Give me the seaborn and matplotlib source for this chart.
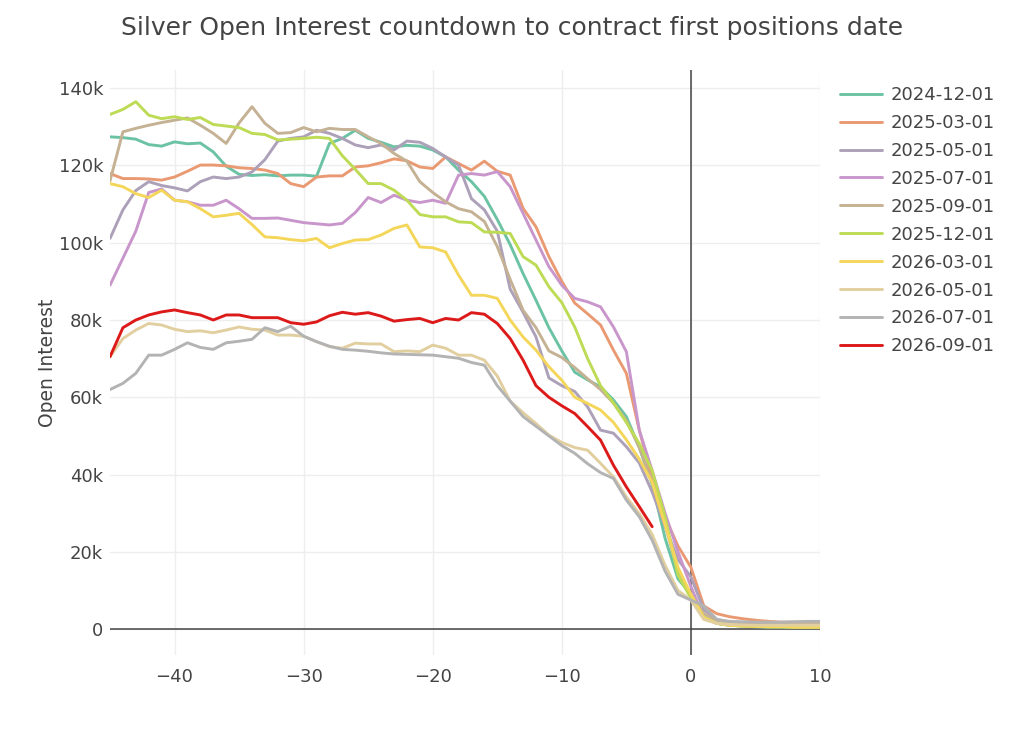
import pandas as pd
import numpy as np
import matplotlib
matplotlib.use("Agg")
import matplotlib.pyplot as plt
import seaborn as sns
from matplotlib.ticker import FuncFormatter


# ===============================
# DATOS (open interest, miles de contratos)
# ===============================

days = list(range(-45, 11))

oi_2024_12 = [127.4, 127.2, 126.8, 125.4, 125.0, 126.1, 125.6, 125.8, 123.5, 119.8,
              117.7, 117.4, 117.6, 117.3, 117.5, 117.5, 117.2, 125.7, 127.0, 129.1,
              127.0, 126.0, 124.8, 125.2, 125.0, 124.0, 122.2, 118.8, 115.8, 112.0,
              106.0, 99.5, 92.0, 85.1, 78.0, 72.0, 66.5, 64.5, 62.7, 59.3,
              55.0, 47.0, 37.5, 23.5, 13.0, 9.0, 3.0, 1.5, 1.0, 0.8,
              0.6, 0.5, 0.5, 0.4, 0.4, 0.4]

oi_2025_03 = [117.9, 116.6, 116.6, 116.5, 116.2, 117.0, 118.5, 120.1, 120.1, 119.9,
              119.4, 119.2, 118.8, 117.9, 115.3, 114.5, 117.0, 117.3, 117.3, 119.6,
              119.9, 120.7, 121.7, 121.2, 119.6, 119.2, 122.2, 120.5, 118.8, 121.1,
              118.5, 117.5, 108.9, 104.1, 96.4, 90.0, 84.4, 81.6, 78.7, 72.2,
              66.2, 51.5, 39.0, 29.0, 21.5, 16.0, 6.0, 4.0, 3.2, 2.7,
              2.3, 2.0, 1.8, 1.8, 1.7, 1.7]

oi_2025_05 = [101.1, 108.5, 113.5, 115.8, 114.8, 114.2, 113.4, 115.8, 117.0, 116.6,
              117.0, 118.3, 121.5, 126.3, 127.0, 127.4, 129.1, 128.3, 127.0, 125.3,
              124.6, 125.3, 124.0, 126.3, 126.0, 124.4, 122.2, 120.1, 111.4, 108.5,
              103.0, 88.0, 82.0, 75.6, 65.0, 63.0, 61.5, 57.5, 51.5, 50.7,
              47.2, 43.0, 35.5, 26.5, 18.0, 13.5, 5.0, 2.5, 1.8, 1.5,
              1.4, 1.3, 1.3, 1.2, 1.2, 1.2]

oi_2025_07 = [89.0, 96.0, 103.0, 113.0, 113.9, 111.0, 110.6, 109.7, 109.7, 111.0,
              108.8, 106.3, 106.3, 106.4, 105.8, 105.2, 104.9, 104.6, 105.0, 107.8,
              111.7, 110.4, 112.3, 111.0, 110.4, 111.0, 110.2, 117.5, 117.9, 117.5,
              118.4, 114.5, 107.6, 100.7, 93.8, 89.0, 85.6, 84.7, 83.4, 78.2,
              71.8, 51.5, 41.0, 30.0, 20.0, 11.0, 3.0, 1.5, 1.0, 0.9,
              0.8, 0.7, 0.7, 0.6, 0.6, 0.6]

oi_2025_09 = [116.0, 128.7, 129.6, 130.4, 131.1, 131.7, 132.3, 130.4, 128.3, 125.7,
              131.0, 135.2, 130.9, 128.3, 128.5, 129.8, 128.7, 129.6, 129.3, 129.3,
              127.4, 125.7, 123.1, 121.1, 115.8, 113.0, 110.6, 108.8, 108.0, 105.5,
              99.0, 90.5, 82.5, 78.0, 72.0, 70.3, 67.7, 64.8, 62.0, 58.5,
              54.0, 47.0, 38.0, 27.0, 15.0, 9.0, 4.0, 2.0, 1.8, 1.6,
              1.5, 1.5, 1.5, 1.5, 1.5, 1.5]

oi_2025_12 = [133.2, 134.5, 136.5, 133.0, 132.1, 132.6, 131.9, 132.4, 130.6, 130.2,
              129.8, 128.3, 128.0, 126.6, 126.8, 127.0, 127.3, 127.0, 122.5, 119.0,
              115.3, 115.3, 113.6, 111.0, 107.3, 106.7, 106.7, 105.4, 105.2, 102.8,
              102.7, 102.4, 96.4, 94.2, 88.6, 84.5, 78.2, 70.0, 63.0, 58.5,
              53.5, 48.0, 41.0, 29.0, 14.0, 8.0, 3.0, 1.5, 1.0, 0.8,
              0.7, 0.6, 0.6, 0.5, 0.5, 0.5]

oi_2026_03 = [115.3, 114.5, 112.7, 111.7, 113.6, 111.0, 110.6, 108.8, 106.7, 107.1,
              107.6, 104.7, 101.5, 101.3, 100.8, 100.5, 101.1, 98.7, 99.8, 100.7,
              100.8, 102.0, 103.7, 104.6, 98.9, 98.7, 97.6, 91.6, 86.4, 86.4,
              85.6, 80.0, 75.6, 72.2, 67.9, 64.4, 60.0, 58.4, 56.7, 53.5,
              49.0, 44.0, 38.0, 27.0, 16.0, 9.0, 3.0, 1.5, 1.0, 0.8,
              0.7, 0.6, 0.6, 0.5, 0.5, 0.5]

oi_2026_05 = [70.5, 75.2, 77.4, 79.1, 78.7, 77.6, 77.0, 77.2, 76.7, 77.4,
              78.2, 77.6, 77.4, 76.1, 76.1, 75.8, 74.4, 73.1, 72.7, 74.0,
              73.8, 73.8, 71.8, 72.0, 71.8, 73.5, 72.7, 70.9, 70.9, 69.6,
              65.5, 59.0, 56.0, 53.2, 50.2, 48.3, 47.0, 46.3, 42.9, 39.4,
              34.2, 29.9, 24.5, 16.5, 10.0, 7.5, 2.5, 1.5, 1.2, 1.1,
              1.0, 1.0, 1.0, 1.0, 1.0, 1.0]

oi_2026_07 = [62.0, 63.6, 66.2, 70.9, 70.9, 72.4, 74.1, 72.9, 72.4, 74.1,
              74.5, 75.0, 78.0, 77.0, 78.4, 75.8, 74.4, 73.2, 72.4, 72.2,
              71.9, 71.5, 71.2, 71.1, 71.0, 70.9, 70.5, 70.1, 69.0, 68.3,
              63.0, 59.0, 55.0, 52.5, 50.0, 47.5, 45.5, 42.8, 40.5, 39.0,
              33.4, 29.1, 23.0, 15.0, 9.0, 7.5, 6.0, 2.5, 2.0, 1.9,
              1.8, 1.8, 1.8, 1.9, 2.0, 2.0]

oi_2026_09 = [70.5, 78.0, 80.0, 81.3, 82.1, 82.6, 81.9, 81.3, 80.0, 81.3,
              81.3, 80.6, 80.6, 80.6, 79.3, 78.9, 79.5, 81.1, 82.0, 81.5,
              81.9, 81.0, 79.7, 80.1, 80.4, 79.3, 80.4, 80.0, 81.9, 81.5,
              79.1, 75.2, 69.6, 63.0, 60.0, 57.8, 55.8, 52.4, 48.9, 42.4,
              36.8, 31.7, 26.5]

contracts = ["2024-12-01", "2025-03-01", "2025-05-01", "2025-07-01", "2025-09-01",
             "2025-12-01", "2026-03-01", "2026-05-01", "2026-07-01", "2026-09-01"]

series = [oi_2024_12, oi_2025_03, oi_2025_05, oi_2025_07, oi_2025_09,
          oi_2025_12, oi_2026_03, oi_2026_05, oi_2026_07, oi_2026_09]

colors = ["#6cc3a4", "#ea9a72", "#ada0b9", "#c996cc", "#c5b193",
          "#bedb55", "#f4d75a", "#e2cfa0", "#b3b3b3", "#dd1a1a"]


# ===============================
# TABLA LARGA
# ===============================

frames = []
for name, values in zip(contracts, series):
    frames.append(pd.DataFrame({
        "day": days[:len(values)],
        "open_interest": np.array(values) * 1000,
        "contract": name
    }))
df = pd.concat(frames, ignore_index=True)


# ===============================
# GRAFICO
# ===============================

sns.set_style("white")
plt.rcParams["font.family"] = ["DejaVu Sans"]

fig = plt.figure(figsize=(10.24, 7.31), dpi=100)
ax = fig.add_axes([110 / 1024, 76 / 731, 710 / 1024, 585 / 731])

ax.axvline(0, color="#444444", linewidth=1.1, zorder=1)
ax.axhline(0, color="#444444", linewidth=1.1, zorder=1)

sns.lineplot(
    data=df,
    x="day",
    y="open_interest",
    hue="contract",
    hue_order=contracts,
    palette=dict(zip(contracts, colors)),
    linewidth=2.1,
    estimator=None,
    ax=ax,
    zorder=2
)

ax.set_xlim(-45, 10)
ax.set_ylim(-6700, 144700)
ax.set_xticks([-40, -30, -20, -10, 0, 10])
ax.set_yticks(range(0, 140001, 20000))
ax.yaxis.set_major_formatter(FuncFormatter(lambda v, p: "0" if v == 0 else f"{int(v / 1000)}k"))

ax.grid(True, color="#eeeeee", linewidth=1.0)
ax.set_axisbelow(True)
for s in ax.spines.values():
    s.set_visible(False)

ax.tick_params(axis="x", length=0, pad=9, labelsize=13, labelcolor="#444444")
ax.tick_params(axis="y", length=0, pad=5, labelsize=13, labelcolor="#444444")

ax.set_xlabel("")
ax.set_ylabel("Open Interest", fontsize=13.5, color="#444444")
ax.yaxis.set_label_coords(-0.074, 0.5)

sns.move_legend(
    ax,
    "upper left",
    bbox_to_anchor=(840 / 1024, 1 - 86 / 731),
    bbox_transform=fig.transFigure,
    frameon=False,
    title=None,
    fontsize=13,
    handlelength=2.3,
    handletextpad=0.5,
    labelspacing=0.55,
    borderpad=0,
    borderaxespad=0
)
for t in ax.get_legend().get_texts():
    t.set_color("#444444")

fig.text(0.5, 1 - 28 / 731, "Silver Open Interest countdown to contract first positions date",
         ha="center", va="center", fontsize=18, color="#444444")

fig.savefig("out.png", dpi=100)
